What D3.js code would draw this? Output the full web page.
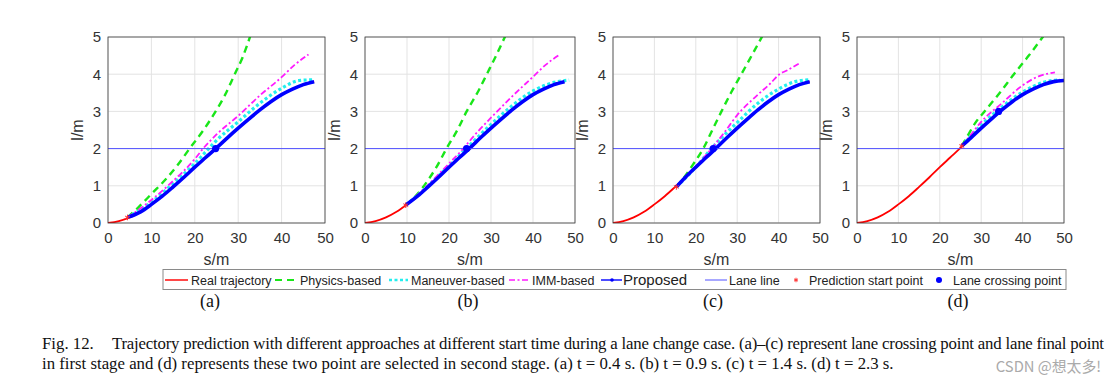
<!DOCTYPE html>
<html>
<head>
<meta charset="utf-8">
<script src="https://cdn.jsdelivr.net/npm/d3@7"></script>
<style>
  body { margin: 0; background: #fff; }
  svg { display: block; }
</style>
</head>
<body>
<div id="chart-container"></div>
<script>
// data (s in m, l in m)
const panelTags = ["(a)", "(b)", "(c)", "(d)"];
const xTicks = [0, 10, 20, 30, 40, 50];
const yTicks = [0, 1, 2, 3, 4, 5];
const laneL = 2;

const realS = [0, 2.5, 5, 7.5, 10, 12.5, 15, 17.5, 20, 22.5, 25, 27.5, 30, 32.5, 35, 37.5, 40, 42.5, 45, 47.5, 50];
const realL = [0, 0.05, 0.15, 0.3, 0.5, 0.72, 0.97, 1.23, 1.5, 1.76, 2.02, 2.29, 2.55, 2.8, 3.04, 3.26, 3.45, 3.6, 3.72, 3.8, 3.83];
const realEnd = [47.5, 47.5, 47.5, 50];

const startS = [4.5, 9.7, 15.3, 25.3];
const startL = [0.15, 0.48, 0.97, 2.07];
const crossS = [24.8, 24.2, 24.2, 34.2];
const crossL = [2.0, 2.0, 2.0, 3.0];

const physicsS = [
  [4.5, 7, 10, 13.5, 16, 18.8, 22, 24.8, 27, 29.2, 31, 33],
  [9.7, 12, 15, 17, 19.4, 22, 24.2, 27, 29, 31, 33.5],
  [15.3, 17, 19.5, 21.8, 24, 26.2, 28.5, 31, 33.5, 36.2],
  [25.3, 26.5, 28.5, 30.8, 34.5, 37.9, 41.5, 45.2]
];
const physicsL = [
  [0.15, 0.42, 0.78, 1.2, 1.55, 2.0, 2.5, 3.0, 3.45, 4.0, 4.45, 5.1],
  [0.48, 0.72, 1.15, 1.5, 2.0, 2.5, 3.0, 3.55, 4.0, 4.45, 5.05],
  [0.97, 1.2, 1.6, 2.0, 2.5, 3.0, 3.5, 4.0, 4.5, 5.05],
  [2.07, 2.3, 2.68, 3.0, 3.5, 4.0, 4.5, 5.05]
];

const maneuverS = [
  [4.5, 7, 10, 15, 20, 23.2, 25, 30, 35, 40, 44, 47.5],
  [9.7, 12.5, 15, 20, 25, 30, 35, 40, 45, 48.6],
  [15.3, 20, 24, 30, 35, 40, 44, 47.5],
  [25.3, 30, 35, 40, 45, 49]
];
const maneuverL = [
  [0.15, 0.32, 0.56, 1.06, 1.6, 2.0, 2.22, 2.72, 3.22, 3.62, 3.83, 3.85],
  [0.48, 0.74, 1.0, 1.54, 2.1, 2.65, 3.15, 3.55, 3.78, 3.84],
  [0.97, 1.5, 2.03, 2.7, 3.22, 3.6, 3.8, 3.85],
  [2.07, 2.63, 3.12, 3.52, 3.78, 3.85]
];

const immS = [
  [4.5, 7, 10, 15, 20, 21.9, 25, 30, 35, 40, 43, 46.2],
  [9.7, 12, 15, 20, 23.4, 26, 30, 35, 40, 43, 46.4],
  [15.3, 18, 20, 23.8, 27, 30, 35, 38, 40.2, 42, 45],
  [25.3, 27, 30, 35, 40, 44, 47.8]
];
const immL = [
  [0.15, 0.35, 0.62, 1.13, 1.72, 2.0, 2.38, 2.88, 3.43, 3.92, 4.25, 4.53],
  [0.48, 0.7, 1.02, 1.6, 2.0, 2.35, 2.83, 3.4, 3.93, 4.25, 4.53],
  [0.97, 1.28, 1.52, 2.0, 2.45, 2.9, 3.45, 3.75, 4.0, 4.1, 4.29],
  [2.07, 2.3, 2.72, 3.22, 3.7, 3.95, 4.05]
];

const legendNames = ["Real trajectory", "Physics-based", "Maneuver-based", "IMM-based", "Proposed",
  "Lane line", "Prediction start point", "Lane crossing point"];

const captionLine1a = "Fig. 12.";
const captionLine1b = "Trajectory prediction with different approaches at different start time during a lane change case. (a)–(c) represent lane crossing point and lane final point";
const captionLine2 = "in first stage and (d) represents these two point are selected in second stage. (a) t = 0.4 s. (b) t = 0.9 s. (c) t = 1.4 s. (d) t = 2.3 s.";
const watermark = "CSDN @想太多!";

const render = () => {
  const svg = d3.select("#chart-container").append("svg")
    .attr("width", 1116).attr("height", 388)
    .style("font-family", "'Liberation Sans', Arial, sans-serif");

  const left = [108, 365, 613, 857];
  const right = [325, 575, 820, 1064];
  const top = 37;
  const bottom = 223;

  const styles = {
    real: { color: "#ff0000", width: 1.8, dash: null },
    physics: { color: "#19e619", width: 2.4, dash: "7,5" },
    maneuver: { color: "#22eeee", width: 3.2, dash: "3,2.5" },
    imm: { color: "#ff1aff", width: 1.8, dash: "6,2.5,2,2.5" },
    proposed: { color: "#0000ff", width: 3.6, dash: null },
    lane: { color: "#5050ff", width: 1, dash: null }
  };

  const toPts = (sArr, lArr) => sArr.map((s, i) => [s, lArr[i]]);

  panelTags.forEach((tag, p) => {
    const x = d3.scaleLinear().domain([0, 50]).range([left[p], right[p]]);
    const y = d3.scaleLinear().domain([0, 5]).range([bottom, top]);
    const g = svg.append("g");

    const clipId = "clip" + p;
    g.append("clipPath").attr("id", clipId).append("rect")
      .attr("x", left[p]).attr("y", top)
      .attr("width", right[p] - left[p]).attr("height", bottom - top);

    // grid
    g.append("g").selectAll("line").data(xTicks).join("line")
      .attr("x1", (d) => x(d)).attr("x2", (d) => x(d))
      .attr("y1", top).attr("y2", bottom)
      .attr("stroke", "#e3e3e3").attr("stroke-width", 1);
    g.append("g").selectAll("line").data(yTicks).join("line")
      .attr("x1", left[p]).attr("x2", right[p])
      .attr("y1", (d) => y(d)).attr("y2", (d) => y(d))
      .attr("stroke", "#e3e3e3").attr("stroke-width", 1);

    // axes
    const xAxis = g.append("g").attr("transform", `translate(0,${bottom})`)
      .call(d3.axisBottom(x).tickValues(xTicks).tickFormat(d3.format("d")).tickSize(0).tickPadding(9));
    const yAxis = g.append("g").attr("transform", `translate(${left[p]},0)`)
      .call(d3.axisLeft(y).tickValues(yTicks).tickFormat(d3.format("d")).tickSize(0).tickPadding(7));
    [xAxis, yAxis].forEach((a) => {
      a.select(".domain").remove();
      a.selectAll("text").attr("font-size", 15).attr("fill", "#333")
        .attr("font-family", "'Liberation Sans', Arial, sans-serif");
    });

    const plot = g.append("g").attr("clip-path", `url(#${clipId})`);
    const line = d3.line().x((d) => x(d[0])).y((d) => y(d[1])).curve(d3.curveMonotoneX);

    const drawLine = (pts, st) => {
      plot.append("path").datum(pts)
        .attr("d", line)
        .attr("fill", "none")
        .attr("stroke", st.color)
        .attr("stroke-width", st.width)
        .attr("stroke-dasharray", st.dash)
        .attr("stroke-linejoin", "round");
    };

    const realPts = toPts(realS, realL).filter((d) => d[0] <= realEnd[p]);
    drawLine(realPts, styles.real);
    drawLine(toPts(physicsS[p], physicsL[p]), styles.physics);
    drawLine(toPts(maneuverS[p], maneuverL[p]), styles.maneuver);
    drawLine(toPts(immS[p], immL[p]), styles.imm);

    const propPts = [[startS[p], startL[p]]].concat(realPts.filter((d) => d[0] > startS[p] + 0.5));
    drawLine(propPts, styles.proposed);

    // lane line
    plot.append("line")
      .attr("x1", x(0)).attr("x2", x(50))
      .attr("y1", y(laneL)).attr("y2", y(laneL))
      .attr("stroke", styles.lane.color).attr("stroke-width", styles.lane.width);

    // prediction start point (asterisk)
    plot.append("path")
      .attr("transform", `translate(${x(startS[p])},${y(startL[p])})`)
      .attr("d", d3.symbol(d3.symbolAsterisk, 22))
      .attr("stroke", "#ff3030").attr("stroke-width", 1).attr("fill", "none");

    // lane crossing point
    plot.append("circle")
      .attr("cx", x(crossS[p])).attr("cy", y(crossL[p])).attr("r", 3.6)
      .attr("fill", "#0000ff");

    // box
    g.append("rect")
      .attr("x", left[p]).attr("y", top)
      .attr("width", right[p] - left[p]).attr("height", bottom - top)
      .attr("fill", "none").attr("stroke", "#3a3a3a").attr("stroke-width", 0.8);

    // labels
    g.append("text")
      .attr("x", (left[p] + right[p]) / 2).attr("y", 265)
      .attr("text-anchor", "middle").attr("font-size", 16).attr("fill", "#333")
      .text("s/m");
    const ylx = left[p] - 25;
    g.append("text")
      .attr("transform", `translate(${ylx},${(top + bottom) / 2}) rotate(-90)`)
      .attr("text-anchor", "middle").attr("font-size", 16).attr("fill", "#333")
      .text("l/m");

    // sub caption
    svg.append("text")
      .attr("x", [210, 468, 713, 958][p]).attr("y", 307)
      .attr("text-anchor", "middle")
      .attr("font-family", "'Liberation Serif', 'Times New Roman', serif")
      .attr("font-size", 18).attr("fill", "#111")
      .text(tag);
  });

  // legend
  const lg = svg.append("g");
  lg.append("rect").attr("x", 163).attr("y", 269.5).attr("width", 903).attr("height", 20)
    .attr("fill", "#fff").attr("stroke", "#8a8a8a").attr("stroke-width", 1);
  const ly = 280;
  const keys = ["real", "physics", "maneuver", "imm", "proposed", "lane"];
  const lineX = [[165, 188], [275, 294], [389, 408], [509, 528], [601, 622], [705, 727]];
  const textX = [191, 300, 411, 532, 623, 729, 809, 953];
  keys.forEach((k, i) => {
    const st = styles[k];
    lg.append("line")
      .attr("x1", lineX[i][0]).attr("x2", lineX[i][1])
      .attr("y1", ly).attr("y2", ly)
      .attr("stroke", st.color)
      .attr("stroke-width", k === "proposed" ? 1.4 : (k === "lane" ? 1 : st.width * 0.8))
      .attr("stroke-dasharray", st.dash);
  });
  lg.append("circle").attr("cx", 612).attr("cy", ly).attr("r", 1.8).attr("fill", "#0000ff");
  lg.append("path").attr("transform", `translate(796,${ly})`)
    .attr("d", d3.symbol(d3.symbolAsterisk, 14))
    .attr("stroke", "#ff3030").attr("stroke-width", 1).attr("fill", "none");
  lg.append("circle").attr("cx", 939).attr("cy", ly).attr("r", 3).attr("fill", "#0000ff");
  legendNames.forEach((name, i) => {
    lg.append("text")
      .attr("x", textX[i]).attr("y", ly + 4.5)
      .attr("font-size", i === 4 ? 15 : 12.5).attr("fill", "#222")
      .text(name);
  });

  // caption
  const serif = "'Liberation Serif', 'Times New Roman', serif";
  svg.append("text").attr("x", 42).attr("y", 349)
    .attr("font-family", serif).attr("font-size", 16.8).attr("fill", "#111")
    .text(captionLine1a);
  svg.append("text").attr("x", 112).attr("y", 349)
    .attr("font-family", serif).attr("font-size", 16.8).attr("fill", "#111")
    .attr("textLength", 992).attr("lengthAdjust", "spacing")
    .text(captionLine1b);
  svg.append("text").attr("x", 42).attr("y", 369)
    .attr("font-family", serif).attr("font-size", 16.8).attr("fill", "#111")
    .text(captionLine2);
  svg.append("text").attr("x", 1101).attr("y", 372)
    .attr("text-anchor", "end")
    .attr("font-family", "'Noto Sans CJK SC', 'Noto Sans', sans-serif")
    .attr("font-size", 14.8).attr("fill", "#aaaaaa")
    .text(watermark);
};

render();
</script>
</body>
</html>
